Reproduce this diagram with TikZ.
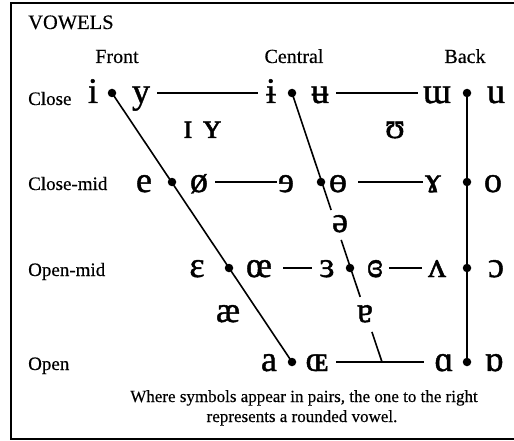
\documentclass[tikz,border=0pt]{standalone}
\usepackage{fontspec}
\setmainfont[FakeBold=0.4]{Liberation Serif}
\newfontfamily\ipafont[FakeBold=1.2]{Liberation Serif}
\usetikzlibrary{calc}
\begin{document}
\begin{tikzpicture}[x=1pt,y=-1pt,
  ipa/.style={font=\ipafont\fontsize{36}{36}\selectfont, inner sep=0pt, anchor=base},
  lab/.style={font=\fontsize{19}{19}\selectfont, inner sep=0pt, anchor=base west},
  head/.style={font=\fontsize{20}{20}\selectfont, inner sep=0pt, anchor=base},
  vdot/.style={circle, fill=black, inner sep=0pt, minimum size=8.5pt},
  conn/.style={line width=1.6pt},
  frame/.style={line width=2.2pt}]
\useasboundingbox (0,0) rectangle (514,441);
% frame
\coordinate (fa) at (515,3);
\coordinate (fb) at (11,3);
\coordinate (fc) at (11,439);
\coordinate (fd) at (515,439);
\draw[frame] (fa) -- (fb) -- (fc) -- (fd);
% titles
\node[lab, font=\fontsize{20.5}{20.5}\selectfont] (title) at (28,29) {VOWELS};
\node[head] (hfront) at (117,63) {Front};
\node[head] (hcentral) at (294,63) {Central};
\node[head] (hback) at (465,63) {Back};
% row labels
\node[lab] (lclose) at (28,105) {Close};
\node[lab] (lclosemid) at (28,190) {Close-mid};
\node[lab] (lopenmid) at (28,276) {Open-mid};
\node[lab] (lopen) at (28,370) {Open};
% dots
\node[vdot] (d11) at (112,93) {};
\node[vdot] (d12) at (292,93) {};
\node[vdot] (d13) at (467,93) {};
\node[vdot] (d21) at (172,182) {};
\node[vdot] (d22) at (321,182) {};
\node[vdot] (d23) at (467,182) {};
\node[vdot] (d31) at (229,268) {};
\node[vdot] (d32) at (350,268) {};
\node[vdot] (d33) at (467,268) {};
\node[vdot] (d41) at (292,362) {};
\node[vdot] (d43) at (467,362) {};
\coordinate (cb) at (382,362);
% vertical / slanted lines
\draw[conn] (d11.center) -- (d41.center);
\draw[conn] (d13.center) -- (d43.center);
\coordinate (g1) at ($(d12.center)!0.435!(cb)$);
\coordinate (g2) at ($(d12.center)!0.546!(cb)$);
\coordinate (g3) at ($(d12.center)!0.758!(cb)$);
\coordinate (g4) at ($(d12.center)!0.888!(cb)$);
\draw[conn] (d12.center) -- (g1);
\draw[conn] (g2) -- (g3);
\draw[conn] (g4) -- (cb);
% horizontal lines
\coordinate (h1a) at (157,93);  \coordinate (h1b) at (258,93);
\coordinate (h2a) at (336,93);  \coordinate (h2b) at (418,93);
\coordinate (h3a) at (215,182); \coordinate (h3b) at (277,182);
\coordinate (h4a) at (358,182); \coordinate (h4b) at (423,182);
\coordinate (h5a) at (283,268); \coordinate (h5b) at (312,268);
\coordinate (h6a) at (389,268); \coordinate (h6b) at (422,268);
\coordinate (h7a) at (336,362); \coordinate (h7b) at (424,362);
\draw[conn] (h1a) -- (h1b);
\draw[conn] (h2a) -- (h2b);
\draw[conn] (h3a) -- (h3b);
\draw[conn] (h4a) -- (h4b);
\draw[conn] (h5a) -- (h5b);
\draw[conn] (h6a) -- (h6b);
\draw[conn] (h7a) -- (h7b);
% close
\node[ipa] (s_i) at (93,103) {i};
\node[ipa] (s_y) at (141,103) {y};
\node[ipa] (s_ibar) at (271,103) {ɨ};
\node[ipa] (s_ubar) at (320,103) {ʉ};
\node[ipa] (s_mw) at (437,103) {ɯ};
\node[ipa] (s_u) at (496,103) {u};
% near-close
\node[ipa] (s_I) at (188,138) {ɪ};
\node[ipa] (s_Y) at (212,138) {ʏ};
\node[ipa] (s_U) at (395,138) {ʊ};
% close-mid
\node[ipa] (s_e) at (144,192) {e};
\node[ipa] (s_oslash) at (199,192) {ø};
\node[ipa] (s_revE) at (286,192) {ɘ};
\node[ipa] (s_obar) at (338,192) {ɵ};
\node[ipa] (s_gam) at (433,192) {ɤ};
\node[ipa] (s_o) at (493,192) {o};
% mid
\node[ipa] (s_schwa) at (340,232) {ə};
% open-mid
\node[ipa] (s_eps) at (197,277) {ɛ};
\node[ipa] (s_oe) at (259,277) {œ};
\node[ipa] (s_reveps) at (327,277) {ɜ};
\node[ipa] (s_closedrev) at (375,277) {ɞ};
\node[ipa] (s_wedge) at (437,277) {ʌ};
\node[ipa] (s_openo) at (496,277) {ɔ};
% near-open
\node[ipa] (s_ae) at (228,322) {æ};
\node[ipa] (s_turna) at (365,322) {ɐ};
% open
\node[ipa] (s_a) at (269,371) {a};
\node[ipa] (s_OE) at (317,371) {ɶ};
\node[ipa] (s_alpha) at (444,371) {ɑ};
\node[ipa] (s_turnalpha) at (494,371) {ɒ};
% footnote
\node[font=\fontsize{17}{17}\selectfont, inner sep=0pt, anchor=base] (note1) at (304,402) {Where symbols appear in pairs, the one to the right};
\node[font=\fontsize{17}{17}\selectfont, inner sep=0pt, anchor=base] (note2) at (302,422) {represents a rounded vowel.};
\end{tikzpicture}
\end{document}
